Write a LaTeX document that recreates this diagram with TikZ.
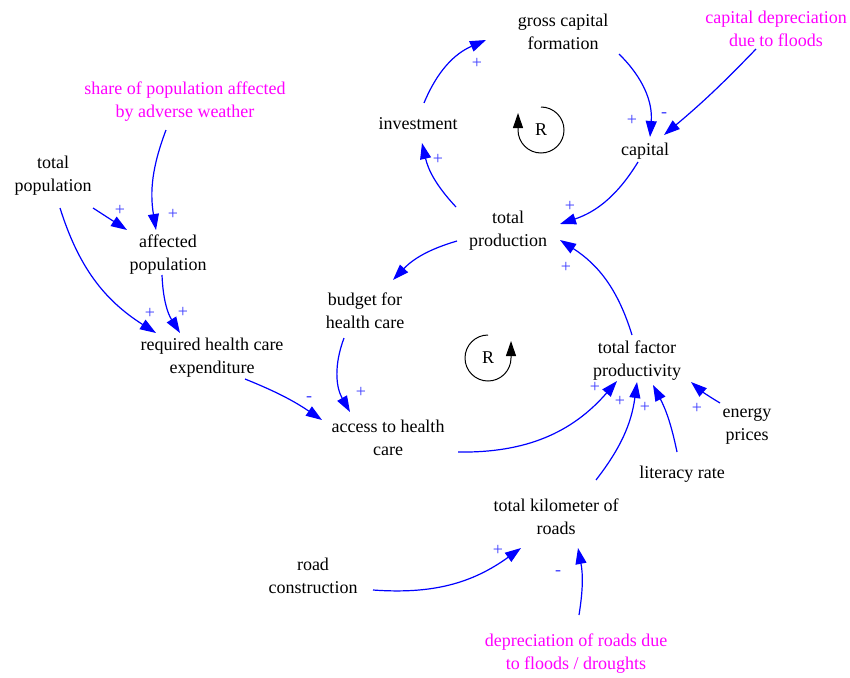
\documentclass[tikz,border=0pt]{standalone}
\usepackage{fontspec}
\setmainfont{Liberation Serif}
\usetikzlibrary{arrows.meta,calc}
\definecolor{lnkblue}{RGB}{0,0,255}
\definecolor{extmag}{RGB}{255,0,255}
\definecolor{sgnblue}{RGB}{60,60,255}
\begin{document}
\begin{tikzpicture}[x=1pt,y=1pt,
  var/.style={font=\fontsize{18}{23}\selectfont, align=center, inner sep=0pt},
  ext/.style={var, text=extmag},
  lnk/.style={draw=lnkblue, line width=1.2pt, -{Triangle[length=16pt,width=11pt]}},
  sgn/.style={text=sgnblue, font=\fontsize{18}{18}\selectfont, inner sep=0pt},
  loopl/.style={draw=black, line width=1pt, -{Triangle[length=15pt,width=10pt]}}]
\useasboundingbox (0,0) rectangle (850,-677);

% variables
\node[var] (gcf)   at (563,-32)  {gross capital\\formation};
\node[ext] (cdep)  at (776,-29)  {capital depreciation\\due to floods};
\node[var] (inv)   at (418,-124) {investment};
\node[var] (cap)   at (645,-151) {capital};
\node[var] (tp)    at (508,-231) {total\\production};
\node[var] (bud)   at (365,-311) {budget for\\health care};
\node[var] (tfp)   at (637,-361) {total factor\\productivity};
\node[ext] (share) at (185,-102) {share of population affected\\by adverse weather};
\node[var] (tpop)  at (53,-176)  {total\\population};
\node[var] (aff)   at (168,-255) {affected\\population};
\node[var] (req)   at (212,-358) {required health care\\expenditure};
\node[var] (acc)   at (388,-438) {access to health\\care};
\node[var] (en)    at (747,-426) {energy\\prices};
\node[var] (lit)   at (682,-474) {literacy rate};
\node[var] (km)    at (556,-517) {total kilometer of\\roads};
\node[var] (rc)    at (313,-576) {road\\construction};
\node[ext] (dep)   at (576,-654) {depreciation of roads due\\to floods / droughts};

% loop markers
\node[var] (r1) at (541,-130) {R};
\draw[loopl] ($(r1)+(0,23)$) arc[start angle=90,end angle=-180,radius=23] -- ++(0,17);
\node[var] (r2) at (488,-358) {R};
\draw[loopl] ($(r2)+(0,23)$) arc[start angle=90,end angle=360,radius=23] -- ++(0,17);

% links
\draw[lnk] ($(inv)+(6,21)$)    to[bend left=22]  ($(gcf)+(-77,-8)$);
\draw[lnk] ($(gcf)+(56,-22)$)  to[bend left=25]  ($(cap)+(5,14)$);
\draw[lnk] ($(cdep)+(-20,-20)$) to[bend left=3]  ($(cap)+(19,16)$);
\draw[lnk] ($(cap)+(-7,-11)$)  to[bend left=20]  ($(tp)+(52,7)$);
\draw[lnk] ($(tp)+(-52,24)$)   to[bend left=15]  ($(inv)+(4,-19)$);
\draw[lnk] ($(tp)+(-51,-10)$)  to[bend right=15] ($(bud)+(28,31)$);
\draw[lnk] ($(bud)+(-21,-27)$) to[bend right=25] ($(acc)+(-38,26)$);
\draw[lnk] ($(req)+(33,-21)$)  to[bend left=6]   ($(acc)+(-66,18)$);
\draw[lnk] ($(acc)+(70,-14)$)  to[bend right=25] ($(tfp)+(-20,-20)$);
\draw[lnk] ($(tfp)+(-5,26)$)   to[bend right=20] ($(tp)+(52,-9)$);
\draw[lnk] ($(km)+(40,37)$)    to[bend right=15] ($(tfp)+(0,-21)$);
\draw[lnk] ($(lit)+(-5,22)$)   to[bend right=8]  ($(tfp)+(16,-24)$);
\draw[lnk] ($(en)+(-27,23)$)   to[bend left=5]   ($(tfp)+(54,-21)$);
\draw[lnk] ($(rc)+(60,-14)$)   to[bend right=20] ($(km)+(-35,-31)$);
\draw[lnk] ($(dep)+(3,39)$)    to[bend right=10] ($(km)+(22,-31)$);
\draw[lnk] ($(share)+(-19,-28)$) to[bend right=15] ($(aff)+(-12,25)$);
\draw[lnk] ($(tpop)+(40,-32)$) to ($(aff)+(-41,25)$);
\draw[lnk] ($(tpop)+(7,-32)$)  to[bend right=20] ($(req)+(-56,25)$);
\draw[lnk] ($(aff)+(-6,-20)$)  to[bend right=15] ($(req)+(-32,25)$);

% polarities
\node[sgn] (s1)  at (477,-63)  {+};
\node[sgn] (s2)  at (632,-120) {+};
\node[sgn] (s3)  at (664,-115) {-};
\node[sgn] (s4)  at (570,-206) {+};
\node[sgn] (s5)  at (438,-159) {+};
\node[sgn] (s6)  at (361,-392) {+};
\node[sgn] (s7)  at (309,-399) {-};
\node[sgn] (s8)  at (595,-387) {+};
\node[sgn] (s9)  at (566,-267) {+};
\node[sgn] (s10) at (620,-401) {+};
\node[sgn] (s11) at (645,-407) {+};
\node[sgn] (s12) at (697,-408) {+};
\node[sgn] (s13) at (498,-550) {+};
\node[sgn] (s14) at (558,-573) {-};
\node[sgn] (s15) at (173,-214) {+};
\node[sgn] (s16) at (120,-210) {+};
\node[sgn] (s17) at (150,-313) {+};
\node[sgn] (s18) at (183,-312) {+};
\end{tikzpicture}
\end{document}
